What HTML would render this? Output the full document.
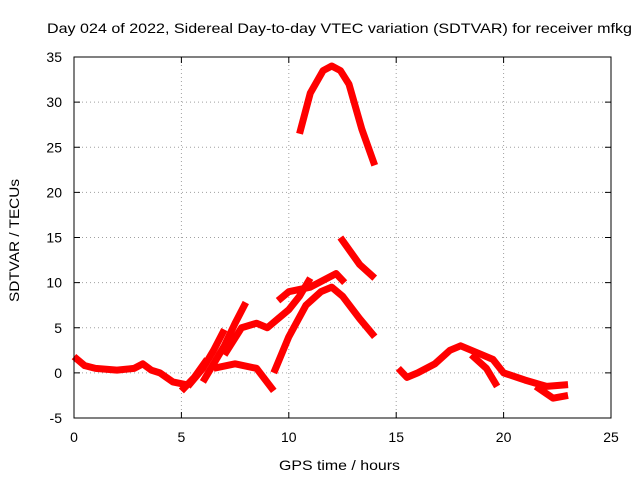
<!DOCTYPE html>
<html><head><meta charset="utf-8"><style>
body{margin:0;background:#fff;}
svg text{font-family:"Liberation Sans",sans-serif;font-size:14px;fill:#000;}
</style></head><body>
<svg id="chart" width="640" height="480" xmlns="http://www.w3.org/2000/svg">
<rect width="640" height="480" fill="#fff"/>
<text x="47" y="33" textLength="585" lengthAdjust="spacingAndGlyphs">Day 024 of 2022, Sidereal Day-to-day VTEC variation (SDTVAR) for receiver mfkg</text>
<text x="279" y="470" textLength="121" lengthAdjust="spacingAndGlyphs">GPS time / hours</text>
<text transform="translate(19,302) rotate(-90)" textLength="123" lengthAdjust="spacingAndGlyphs">SDTVAR / TECUs</text>
<g id="grid"></g><g id="ticks"></g><g id="marks"></g>
<rect x="74" y="57" width="537" height="361" fill="none" stroke="#000" stroke-width="1"/>
</svg>
<script>
const xTicks=[0,5,10,15,20,25];
const yTicks=[-5,0,5,10,15,20,25,30,35];
const track1T=[0,0.5,1,2,2.8,3.2,3.6,4,4.6,5.2];
const track1V=[1.8,0.8,0.5,0.3,0.5,1.0,0.3,0,-1,-1.3];
const track2T=[5.0,5.6,6.2];
const track2V=[-2,-0.5,1.5];
const track3T=[5.3,6,6.5,7];
const track3V=[-1.5,0.5,2.5,4.8];
const track4T=[6,6.5,7,7.5,8];
const track4V=[-1,1,3,5.5,7.8];
const track5T=[6.5,7.5,8.5,9.3];
const track5V=[0.5,1,0.5,-2];
const track6T=[7,7.8,8.5,9,9.5,10,10.5,11];
const track6V=[2,5,5.5,5,6,7,8.5,10.5];
const track7T=[9.5,10,11,11.8,12.2,12.6];
const track7V=[8,9,9.5,10.5,11,10];
const track8T=[9.3,10,10.8,11.5,12,12.5,13.3,14];
const track8V=[0,4,7.5,9,9.5,8.5,6,4];
const track9T=[10.5,11,11.6,12,12.4,12.8,13.4,14];
const track9V=[26.5,31,33.5,34,33.5,32,27,23];
const track10T=[12.4,13.3,14];
const track10V=[15,12,10.5];
const track11T=[15.1,15.5,16,16.8,17.5,18,19,19.5,20,21,22,23];
const track11V=[0.5,-0.5,0,1,2.5,3,2,1.5,0,-0.8,-1.5,-1.3];
const track12T=[18.5,19.2,19.7];
const track12V=[2,0.5,-1.5];
const track13T=[21.5,22.3,23];
const track13V=[-1.5,-2.8,-2.5];
const tracks=[[track1T,track1V],[track2T,track2V],[track3T,track3V],[track4T,track4V],[track5T,track5V],[track6T,track6V],[track7T,track7V],[track8T,track8V],[track9T,track9V],[track10T,track10V],[track11T,track11V],[track12T,track12V],[track13T,track13V]];
const X0=74,X1=611,Y0=418,Y1=57;
const xs=v=>X0+(v-0)/25*(X1-X0);
const ys=v=>Y0-(v+5)/40*(Y0-Y1);
const NS="http://www.w3.org/2000/svg";
const grid=document.getElementById('grid'),ticks=document.getElementById('ticks'),marks=document.getElementById('marks');
function mk(tag,attrs,parent){const e=document.createElementNS(NS,tag);for(const k in attrs)e.setAttribute(k,attrs[k]);parent.appendChild(e);return e;}
xTicks.forEach(t=>{const x=xs(t);
 if(t>0&&t<25){const g=mk('line',{x1:x,x2:x,y1:Y0,y2:Y1,stroke:'#a0a0a0','stroke-dasharray':'1,3'},grid);
 
 }
 mk('line',{x1:x,x2:x,y1:Y0,y2:Y0-6,stroke:'#000'},ticks);
 mk('line',{x1:x,x2:x,y1:Y1,y2:Y1+6,stroke:'#000'},ticks);
 const tx=mk('text',{x:x,y:Y0+24,'text-anchor':'middle'},ticks);tx.textContent=t;
 
 });
yTicks.forEach(t=>{const y=ys(t);
 if(t>-5&&t<35){const g=mk('line',{x1:X0,x2:X1,y1:y,y2:y,stroke:'#a0a0a0','stroke-dasharray':'1,3'},grid);
 
 }
 mk('line',{x1:X0,x2:X0+6,y1:y,y2:y,stroke:'#000'},ticks);
 mk('line',{x1:X1,x2:X1-6,y1:y,y2:y,stroke:'#000'},ticks);
 const tx=mk('text',{x:X0-12,y:y+5,'text-anchor':'end'},ticks);tx.textContent=t;
 
 });
tracks.forEach(([T,V],i)=>{
 const pts=T.map((t,j)=>xs(t)+','+ys(V[j])).join(' ');
 const p=mk('polyline',{points:pts,fill:'none',stroke:'#f00','stroke-width':7,'stroke-linejoin':'round','stroke-linecap':'butt'},marks);
 
 
});
</script>
</body></html>
